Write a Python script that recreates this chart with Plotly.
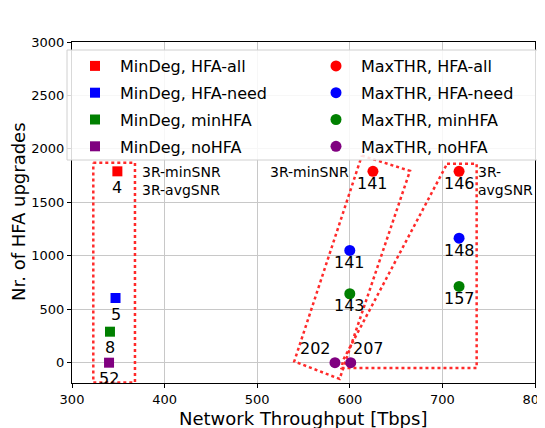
import plotly.graph_objects as go

# ---- data ----
categories = ["HFA-all", "HFA-need", "minHFA", "noHFA"]
colors = ["#ff0000", "#0000ff", "#008000", "#800080"]

mindeg_x = [349, 347, 341, 340]
mindeg_y = [1790, 605, 290, 0]
mindeg_lbl = ["4", "5", "8", "52"]

# MaxTHR: minSNR group and avgSNR group
maxthr_min_x = [625, 600, 600, 584]
maxthr_min_y = [1790, 1050, 645, 0]
maxthr_min_lbl = ["141", "141", "143", "202"]

maxthr_avg_x = [718, 718, 718, 601]
maxthr_avg_y = [1790, 1165, 713, 0]
maxthr_avg_lbl = ["146", "148", "157", "207"]

# dotted outline groups
box1_x = [323, 368, 368, 323, 323]
box1_y = [1870, 1870, -185, -185, 1870]
box2_x = [613, 665, 589, 540, 613]
box2_y = [1937, 1794, -152, 12, 1937]
box3_x = [705, 737, 737, 591, 593, 705]
box3_y = [1860, 1860, -50, -50, 28, 1860]

x_ticks = [300, 400, 500, 600, 700, 800]
y_ticks = [0, 500, 1000, 1500, 2000, 2500, 3000]

# page body has an 8px margin; figure sized to fit the window
OFF = 8
W, H = 537, 420
ML, MR, MT, MB = 64, 10, 34, 45
PW, PH = W - ML - MR, H - MT - MB


def px_x(p):  # screen px -> paper
    return (p - OFF - ML) / PW


def px_y(p):
    return (H - MB - (p - OFF)) / PH


fig = go.Figure()

for bx, by in [(box1_x, box1_y), (box2_x, box2_y), (box3_x, box3_y)]:
    fig.add_trace(go.Scatter(x=bx, y=by, mode="lines", showlegend=False,
                             line=dict(color="#ff2a2a", width=2.5, dash="dot"),
                             hoverinfo="skip"))

for i, c in enumerate(categories):
    fig.add_trace(go.Scatter(x=[mindeg_x[i]], y=[mindeg_y[i]], mode="markers",
                             name=f"MinDeg, {c}", legend="legend", legendgroup=f"a{i}",
                             marker=dict(symbol="square", size=10, color=colors[i])))
for i, c in enumerate(categories):
    fig.add_trace(go.Scatter(x=[maxthr_min_x[i], maxthr_avg_x[i]],
                             y=[maxthr_min_y[i], maxthr_avg_y[i]], mode="markers",
                             name=f"MaxTHR, {c}", legend="legend2", legendgroup=f"b{i}",
                             marker=dict(symbol="circle", size=11, color=colors[i])))

lab_font = dict(family="DejaVu Sans", size=16, color="black")
for i in range(4):
    fig.add_annotation(x=mindeg_x[i], y=mindeg_y[i], text=mindeg_lbl[i], showarrow=False,
                       yshift=-16, font=lab_font)
for i in range(3):
    fig.add_annotation(x=maxthr_min_x[i], y=maxthr_min_y[i], text=maxthr_min_lbl[i],
                       showarrow=False, yshift=-12, font=lab_font)
    fig.add_annotation(x=maxthr_avg_x[i], y=maxthr_avg_y[i], text=maxthr_avg_lbl[i],
                       showarrow=False, yshift=-12, font=lab_font)
fig.add_annotation(x=maxthr_min_x[3], y=maxthr_min_y[3], text=maxthr_min_lbl[3],
                   showarrow=False, xshift=-19, yshift=14, font=lab_font)
fig.add_annotation(x=maxthr_avg_x[3], y=maxthr_avg_y[3], text=maxthr_avg_lbl[3],
                   showarrow=False, xshift=18, yshift=14, font=lab_font)

note_font = dict(family="DejaVu Sans", size=14, color="black")
fig.add_annotation(x=373, y=1785, text="3R-minSNR", xanchor="left", showarrow=False, font=note_font)
fig.add_annotation(x=373, y=1617, text="3R-avgSNR", xanchor="left", showarrow=False, font=note_font)
fig.add_annotation(x=601, y=1785, text="3R-minSNR", xanchor="right", showarrow=False, font=note_font)
fig.add_annotation(x=736, y=1785, text="3R-", xanchor="left", showarrow=False, font=note_font)
fig.add_annotation(x=736, y=1617, text="avgSNR", xanchor="left", showarrow=False, font=note_font)

# axis titles
title_font = dict(family="DejaVu Sans", size=18, color="black")
fig.add_annotation(xref="paper", yref="paper", x=px_x(303), y=px_y(419),
                   xanchor="center", yanchor="middle",
                   text="Network Throughput [Tbps]", showarrow=False, font=title_font)
fig.add_annotation(xref="paper", yref="paper", x=px_x(18), y=px_y(212), textangle=-90,
                   xanchor="center", yanchor="middle",
                   text="Nr. of HFA upgrades", showarrow=False, font=title_font)

# legend background box
fig.add_shape(type="rect", xref="paper", yref="paper",
              x0=px_x(67), x1=px_x(538), y0=px_y(160), y1=px_y(50),
              fillcolor="rgba(255,255,255,0.85)", line=dict(color="#d0d0d0", width=1),
              layer="above")

axis_common = dict(showline=True, linecolor="black", linewidth=1.2, mirror=True,
                   showgrid=True, gridcolor="#c8c8c8", gridwidth=1, zeroline=False,
                   ticks="outside", ticklen=4, tickcolor="black", automargin=False,
                   ticklabeloverflow="allow",
                   tickfont=dict(family="DejaVu Sans", size=13, color="black"))

fig.update_xaxes(range=[300, 800], tickvals=x_ticks, **axis_common)
fig.update_yaxes(range=[-190, 3000], tickvals=y_ticks, **axis_common)

leg_common = dict(orientation="v", xanchor="left", yanchor="top", itemwidth=40,
                  tracegroupgap=3, bgcolor="rgba(0,0,0,0)", borderwidth=0,
                  font=dict(family="DejaVu Sans", size=16, color="black"))

fig.update_layout(
    width=W, height=H,
    margin=dict(l=ML, r=MR, t=MT, b=MB, autoexpand=False),
    plot_bgcolor="white", paper_bgcolor="white",
    legend=dict(x=px_x(70), y=px_y(49), **leg_common),
    legend2=dict(x=px_x(311), y=px_y(49), **leg_common),
)

fig.write_html("out.html")
